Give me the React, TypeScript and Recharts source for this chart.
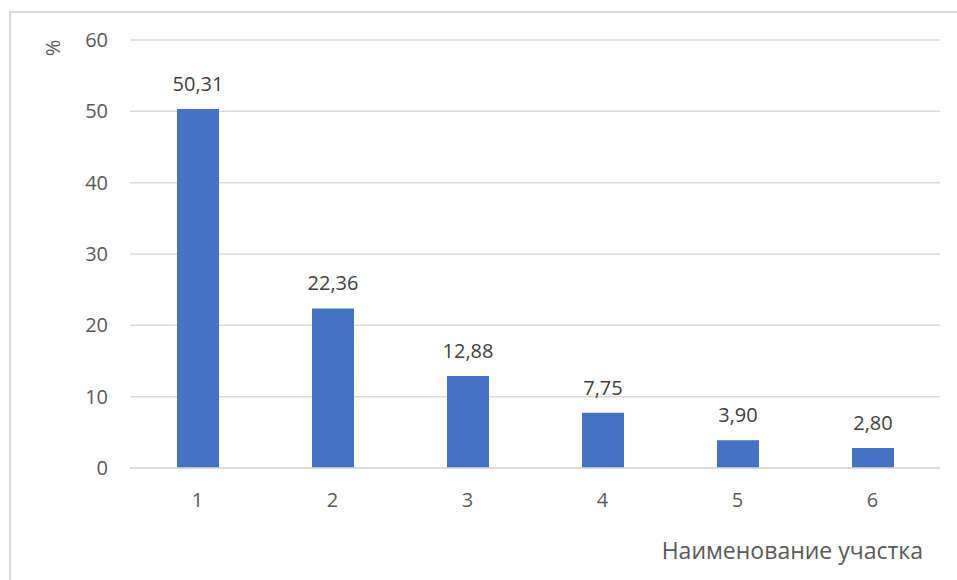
import { BarChart, Bar, XAxis, YAxis, CartesianGrid, LabelList } from 'recharts';

const sections = ['1', '2', '3', '4', '5', '6'];
const shares = [50.31, 22.36, 12.88, 7.75, 3.9, 2.8];
const yTicks = [0, 10, 20, 30, 40, 50, 60];

const FONT = '"Open Sans", "DejaVu Sans", sans-serif';

const data = sections.map((name, i) => ({ name, value: shares[i] }));

const formatValue = (v: number) => v.toFixed(2).replace('.', ',');

export default function App() {
  return (
    <div
      style={{
        position: 'fixed',
        left: 0,
        top: 0,
        width: 957,
        height: 580,
        overflow: 'hidden',
        background: '#fff',
        fontFamily: FONT,
      }}
    >
      {/* chart frame */}
      <div
        style={{
          position: 'absolute',
          left: 9,
          top: 11,
          width: 1000,
          height: 700,
          border: '2px solid #d9d9d9',
        }}
      />
      <div style={{ position: 'absolute', left: 0, top: 0 }}>
        <BarChart
          width={957}
          height={580}
          data={data}
          margin={{ top: 40, right: 17, left: 0, bottom: 82 }}
          barSize={42}
        >
          <CartesianGrid vertical={false} stroke="#d9d9d9" strokeWidth={1.5} />
          <XAxis
            dataKey="name"
            height={30}
            tickLine={false}
            axisLine={{ stroke: '#d9d9d9', strokeWidth: 1.5 }}
            tickMargin={19}
            tick={{ fill: '#595959', fontSize: 20, fontFamily: FONT }}
          />
          <YAxis
            width={130}
            domain={[0, 60]}
            ticks={yTicks}
            tickLine={false}
            axisLine={false}
            tickMargin={16}
            tick={{ fill: '#595959', fontSize: 20, fontFamily: FONT }}
          />
          <Bar dataKey="value" fill="#4472c4" isAnimationActive={false}>
            <LabelList
              dataKey="value"
              position="top"
              offset={18}
              formatter={(v: number) => formatValue(v)}
              style={{ fill: '#404040', fontSize: 20, fontFamily: FONT }}
            />
          </Bar>
        </BarChart>
      </div>
      <div
        style={{
          position: 'absolute',
          left: 41,
          top: 36,
          width: 24,
          height: 24,
          lineHeight: '24px',
          textAlign: 'center',
          transform: 'rotate(-90deg)',
          color: '#595959',
          fontSize: 20,
        }}
      >
        %
      </div>
      <div
        style={{
          position: 'absolute',
          right: 34,
          top: 539,
          lineHeight: 1,
          color: '#595959',
          fontSize: 23,
          whiteSpace: 'nowrap',
        }}
      >
        Наименование участка
      </div>
    </div>
  );
}
